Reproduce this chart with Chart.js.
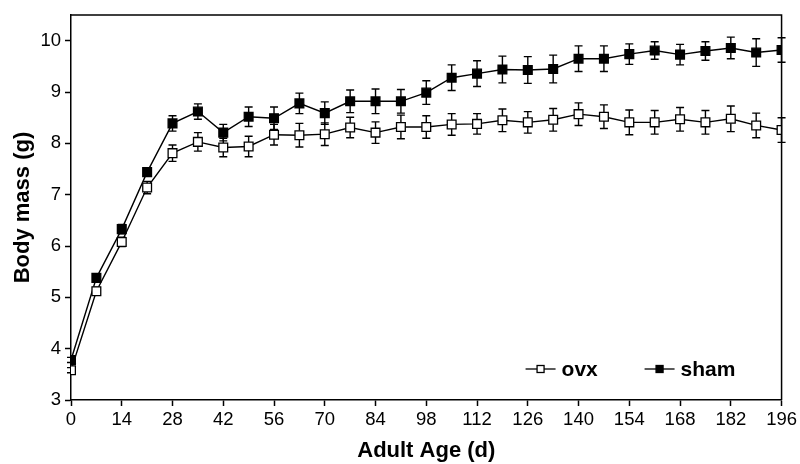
<!DOCTYPE html>
<html>
<head>
<meta charset="utf-8">
<script src="https://cdn.jsdelivr.net/npm/chart.js@4.4.0/dist/chart.umd.min.js"></script>
<style>
  html, body { margin: 0; padding: 0; background: #ffffff; }
  #wrap { width: 800px; height: 464px; }
</style>
</head>
<body>
<div id="wrap"><canvas id="c" width="800" height="464"></canvas></div>
<script>
// ---- data ----
const days = [0, 7, 14, 21, 28, 35, 42, 49, 56, 63, 70, 77, 84, 91, 98, 105, 112, 119, 126, 133, 140, 147, 154, 161, 168, 175, 182, 189, 196];
const ovxMean = [3.58, 5.12, 6.08, 7.14, 7.81, 8.03, 7.92, 7.94, 8.17, 8.16, 8.18, 8.31, 8.21, 8.32, 8.32, 8.37, 8.38, 8.45, 8.41, 8.46, 8.57, 8.52, 8.41, 8.41, 8.47, 8.41, 8.48, 8.35, 8.26];
const ovxSE = [0.05, 0.08, 0.09, 0.12, 0.16, 0.18, 0.18, 0.20, 0.20, 0.23, 0.22, 0.20, 0.21, 0.23, 0.22, 0.21, 0.20, 0.22, 0.21, 0.22, 0.22, 0.23, 0.24, 0.23, 0.23, 0.23, 0.25, 0.24, 0.24];
const shamMean = [3.78, 5.38, 6.33, 7.44, 8.39, 8.62, 8.21, 8.52, 8.49, 8.78, 8.59, 8.82, 8.82, 8.82, 8.99, 9.28, 9.36, 9.44, 9.43, 9.45, 9.65, 9.65, 9.74, 9.81, 9.73, 9.80, 9.86, 9.77, 9.82];
const shamSE = [0.05, 0.08, 0.09, 0.08, 0.15, 0.15, 0.16, 0.19, 0.22, 0.20, 0.22, 0.22, 0.24, 0.23, 0.23, 0.25, 0.25, 0.26, 0.26, 0.27, 0.25, 0.25, 0.20, 0.17, 0.20, 0.18, 0.21, 0.27, 0.24];
const seriesNames = ["ovx", "sham"];
const xTitle = "Adult Age (d)";
const yTitle = "Body mass (g)";
const xMin = 0, xMax = 196, xStep = 14;
const yMin = 3, yMax = 10.5, yStep = 1;

const FONT = "'Liberation Sans', Arial, Helvetica, sans-serif";

function toPts(m) { return days.map((d, i) => ({ x: d, y: m[i] })); }

const errorBars = {
  id: 'errorBars',
  beforeDatasetsDraw(chart) {
    const ctx = chart.ctx;
    const xs = chart.scales.x, ys = chart.scales.y;
    const sets = [[ovxMean, ovxSE], [shamMean, shamSE]];
    ctx.save();
    ctx.strokeStyle = '#000';
    ctx.lineWidth = 1.4;
    sets.forEach(([m, se]) => {
      days.forEach((d, i) => {
        const px = xs.getPixelForValue(d);
        const top = ys.getPixelForValue(m[i] + se[i]);
        const bot = ys.getPixelForValue(m[i] - se[i]);
        ctx.beginPath();
        ctx.moveTo(px, top); ctx.lineTo(px, bot);
        ctx.moveTo(px - 4, top); ctx.lineTo(px + 4, top);
        ctx.moveTo(px - 4, bot); ctx.lineTo(px + 4, bot);
        ctx.stroke();
      });
    });
    ctx.restore();
  }
};

const frameAndLegend = {
  id: 'frameAndLegend',
  afterDraw(chart) {
    const ctx = chart.ctx;
    const a = chart.chartArea;
    ctx.save();
    ctx.strokeStyle = '#000';
    ctx.lineWidth = 1.5;
    ctx.beginPath();
    ctx.moveTo(a.left, a.top); ctx.lineTo(a.right, a.top); ctx.lineTo(a.right, a.bottom);
    ctx.stroke();
    // legend
    const ly = a.bottom - 31;
    const items = [
      { name: seriesNames[0], x0: a.right - 256, fill: '#fff' },
      { name: seriesNames[1], x0: a.right - 137, fill: '#000' }
    ];
    ctx.font = "bold 21px " + FONT;
    ctx.textBaseline = 'alphabetic';
    ctx.textAlign = 'left';
    items.forEach(it => {
      ctx.lineWidth = 1.3;
      ctx.beginPath();
      ctx.moveTo(it.x0, ly); ctx.lineTo(it.x0 + 30, ly);
      ctx.stroke();
      const cx = it.x0 + 15;
      ctx.fillStyle = it.fill;
      ctx.fillRect(cx - 3.5, ly - 3.5, 7, 7);
      ctx.strokeRect(cx - 3.5, ly - 3.5, 7, 7);
      ctx.fillStyle = '#000';
      ctx.fillText(it.name, it.x0 + 36, ly + 7);
    });
    ctx.restore();
  }
};

new Chart(document.getElementById('c'), {
  type: 'line',
  data: {
    datasets: [
      {
        label: seriesNames[0],
        data: toPts(ovxMean),
        borderColor: '#000',
        borderWidth: 1.4,
        pointStyle: 'rect',
        pointRadius: 6.2,
        pointBorderWidth: 1.3,
        pointBackgroundColor: '#fff',
        pointBorderColor: '#000',
        tension: 0
      },
      {
        label: seriesNames[1],
        data: toPts(shamMean),
        borderColor: '#000',
        borderWidth: 1.4,
        pointStyle: 'rect',
        pointRadius: 6.2,
        pointBorderWidth: 1.3,
        pointBackgroundColor: '#000',
        pointBorderColor: '#000',
        tension: 0
      }
    ]
  },
  options: {
    responsive: false,
    animation: false,
    devicePixelRatio: 1,
    layout: { padding: { left: 0, top: 15, right: 17, bottom: 0 } },
    plugins: { legend: { display: false }, tooltip: { enabled: false } },
    scales: {
      x: {
        type: 'linear',
        min: xMin, max: xMax,
        afterFit(s) { s.height = 64; },
        ticks: { stepSize: xStep, color: '#000', font: { family: FONT, size: 18.5 }, padding: 3, maxRotation: 0 },
        grid: { drawOnChartArea: false, drawTicks: true, tickLength: 6, tickColor: '#000', tickWidth: 1.5 },
        border: { display: true, color: '#000', width: 1.5 },
        title: { display: true, text: xTitle, color: '#000', font: { family: FONT, size: 22, weight: 'bold' }, padding: { top: 0, bottom: 0 } }
      },
      y: {
        type: 'linear',
        min: yMin, max: yMax,
        afterFit(s) { s.width = 71; },
        afterBuildTicks(s) { s.ticks = s.ticks.filter(t => Number.isInteger(t.value)); },
        ticks: { stepSize: yStep, color: '#000', font: { family: FONT, size: 18.5 }, padding: 4 },
        grid: { drawOnChartArea: false, drawTicks: true, tickLength: 6, tickColor: '#000', tickWidth: 1.5 },
        border: { display: true, color: '#000', width: 1.5 },
        title: { display: true, text: yTitle, color: '#000', font: { family: FONT, size: 22, weight: 'bold' }, padding: { top: 10, bottom: 0 } }
      }
    }
  },
  plugins: [errorBars, frameAndLegend]
});
</script>
</body>
</html>
